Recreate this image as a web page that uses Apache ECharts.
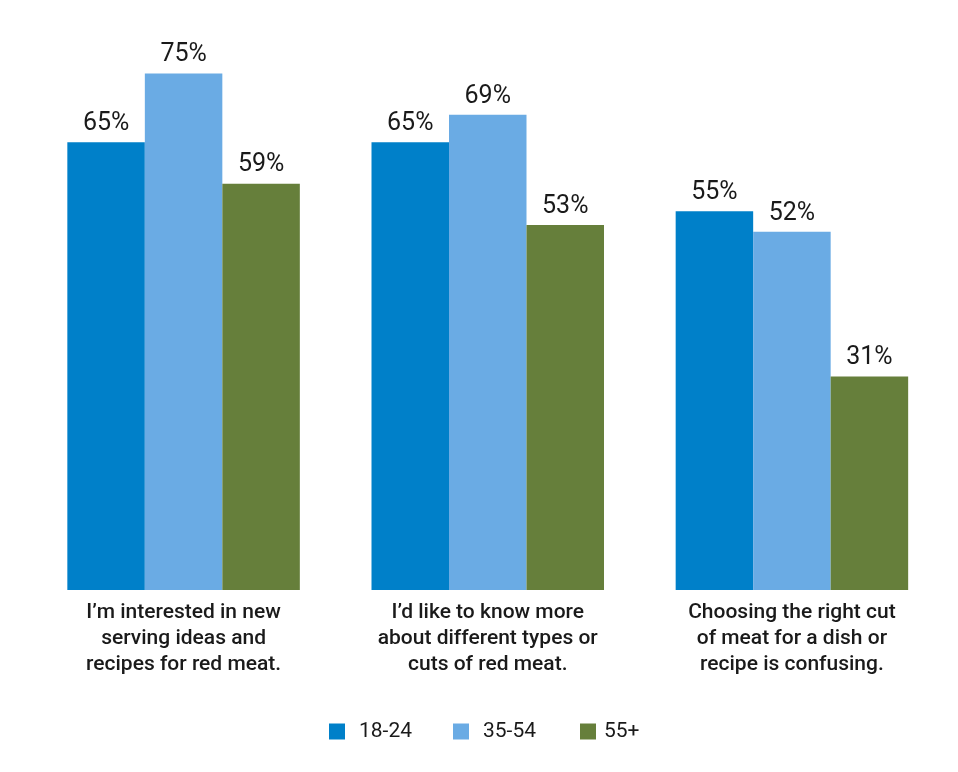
<!DOCTYPE html>
<html>
<head>
<meta charset="utf-8">
<script src="https://cdn.jsdelivr.net/npm/echarts@6/dist/echarts.min.js"></script>
<style>
html,body{margin:0;padding:0;background:#fff;}
#chart{width:958px;height:772px;}
</style>
</head>
<body>
<div id="chart"></div>
<script>
const categories = [
  "I\u2019m interested in new\nserving ideas and\nrecipes for red meat.",
  "I\u2019d like to know more\nabout different types or\ncuts of red meat.",
  "Choosing the right cut\nof meat for a dish or\nrecipe is confusing."
];
const seriesNames = ["18-24", "35-54", "55+"];
const values1824 = [65, 65, 55];
const values3554 = [75, 69, 52];
const values55plus = [59, 53, 31];
const colors = ["#0080C9", "#6AABE4", "#667F3B"];

const FONT = "Roboto, 'Noto Sans', sans-serif";
const chart = echarts.init(document.getElementById('chart'));

const allValues = [values1824, values3554, values55plus];
const series = seriesNames.map((name, i) => ({
  name: name,
  type: 'bar',
  data: allValues[i],
  barWidth: 77.5,
  barGap: '0%',
  itemStyle: { color: colors[i] },
  label: {
    show: true,
    position: 'top',
    distance: 6,
    formatter: '{c}%',
    fontFamily: FONT,
    fontSize: 25,
    color: '#1a1a1a'
  }
}));

const legendLefts = [324, 448, 575];
const legends = seriesNames.map((name, i) => ({
  data: [name],
  left: legendLefts[i],
  top: 716,
  icon: 'rect',
  itemWidth: 16,
  itemHeight: 16,
  textStyle: {
    fontFamily: FONT,
    fontSize: 21,
    color: '#1a1a1a',
    padding: [0, 0, 0, i === 2 ? 3 : 9]
  }
}));

chart.setOption({
  animation: false,
  backgroundColor: '#ffffff',
  legend: legends,
  grid: { left: 31.5, right: 14, top: 39, bottom: 182, containLabel: false },
  xAxis: {
    type: 'category',
    data: categories,
    axisLine: { show: false },
    axisTick: { show: false },
    axisLabel: {
      fontFamily: FONT,
      fontSize: 21,
      fontWeight: 500,
      color: '#1a1a1a',
      lineHeight: 26,
      margin: 10,
      interval: 0
    }
  },
  yAxis: {
    type: 'value',
    min: 0,
    max: 80,
    show: false,
    splitLine: { show: false }
  },
  series: series
});
</script>
</body>
</html>
